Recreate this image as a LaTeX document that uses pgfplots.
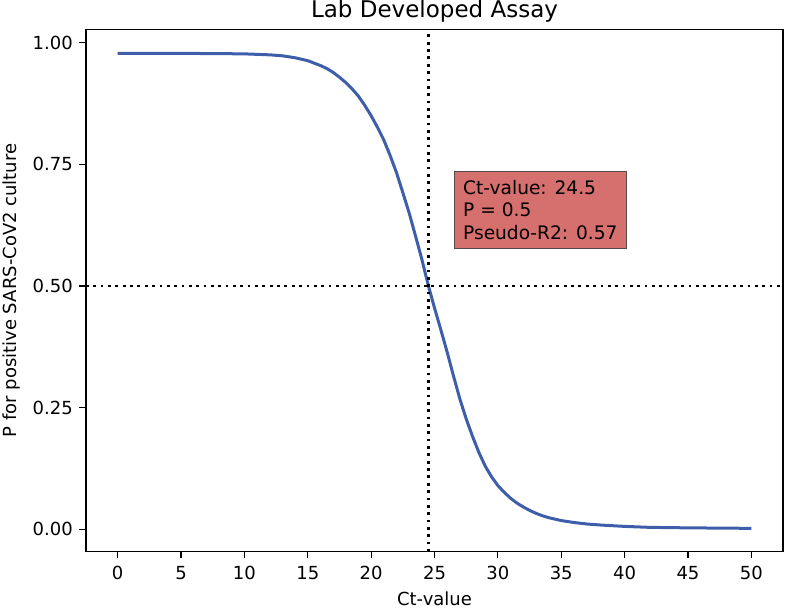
\documentclass[border=0pt]{standalone}
\usepackage{fontspec}
\setmainfont{DejaVu Sans}
\usepackage{pgfplots}
\pgfplotsset{compat=1.18}
\definecolor{curve}{RGB}{62,94,170}
\definecolor{boxfill}{RGB}{214,112,110}
\definecolor{boxedge}{RGB}{85,75,75}
\begin{document}
\begin{tikzpicture}
\begin{axis}[
  scale only axis, width=697pt, height=522.4pt,
  xmin=-2.5, xmax=52.5, ymin=-0.046, ymax=1.0275,
  xtick={0,5,...,50},
  ytick={0,0.25,0.5,0.75,1},
  yticklabels={0.00,0.25,0.50,0.75,1.00},
  xtick pos=bottom, ytick pos=left,
  tick align=outside,
  major tick length=6.5pt,
  every tick/.style={black, line width=1.2pt},
  axis line style={line width=1.5pt},
  /pgf/number format/assume math mode=true,
  ticklabel style={font=\fontsize{18}{21.6}\selectfont},
  xticklabel style={inner sep=0pt, yshift=-7.5pt},
  yticklabel style={inner sep=0pt, xshift=-6.5pt},
  title={Lab Developed Assay},
  title style={at={(axis description cs:0.5,1)}, anchor=base, yshift=5.5pt, font=\fontsize{23}{27}\selectfont},
  xlabel={Ct-value},
  xlabel style={at={(axis description cs:0.5,0)}, anchor=base, yshift=-53.3pt, font=\fontsize{18}{21.6}\selectfont},
  ylabel={P for positive SARS-CoV2 culture},
  ylabel style={at={([xshift=-69.3pt]axis description cs:0,0.5)}, anchor=base, font=\fontsize{18}{21.6}\selectfont},
]
\coordinate (A) at (rel axis cs:0,0);
\coordinate (B) at (rel axis cs:1,1);
\addplot[curve, line width=3pt, line join=round] coordinates {
(0,0.978) (5,0.978) (8,0.9775) (10,0.977) (11,0.976) (12,0.975) (13,0.973) (14,0.969)
(14.5,0.966) (15,0.963) (15.5,0.958) (16,0.953) (16.5,0.947) (17,0.939) (17.5,0.929)
(18,0.918) (18.5,0.905) (19,0.890) (19.5,0.871) (20,0.850) (20.5,0.826)
(21,0.800) (21.5,0.768) (22,0.733) (22.5,0.692) (23,0.650) (23.5,0.603) (24,0.555)
(24.5,0.502) (25,0.455) (25.5,0.410) (26,0.364) (26.5,0.315) (27,0.268) (27.5,0.227)
(28,0.191) (28.5,0.158) (29,0.130) (29.5,0.108) (30,0.090) (30.5,0.076) (31,0.064)
(31.5,0.054) (32,0.046) (32.5,0.039) (33,0.033) (33.5,0.028) (34,0.024) (35,0.018)
(36,0.014) (37,0.011) (38,0.009) (40,0.006) (42,0.004) (45,0.003) (50,0.002)
};
\addplot[black, line width=2.75pt, dash pattern=on 2.75pt off 4.6pt] coordinates {(24.5,-0.046) (24.5,1.0275)};
\addplot[black, line width=2.75pt, dash pattern=on 2.75pt off 4.6pt] coordinates {(-2.5,0.5) (52.5,0.5)};
\node[draw=boxedge, fill=boxfill, line width=1.3pt, inner sep=9pt, align=left, anchor=south west,
  font=\fontsize{18.6}{22.2}\selectfont] at (axis cs:26.5,0.576) {Ct-value: 24.5\\P = 0.5\\Pseudo-R2: 0.57};
\end{axis}
\pgfresetboundingbox
\path ([xshift=-86pt,yshift=-57.3pt]A) rectangle ([xshift=4pt,yshift=29.3pt]B);
\end{tikzpicture}
\end{document}
